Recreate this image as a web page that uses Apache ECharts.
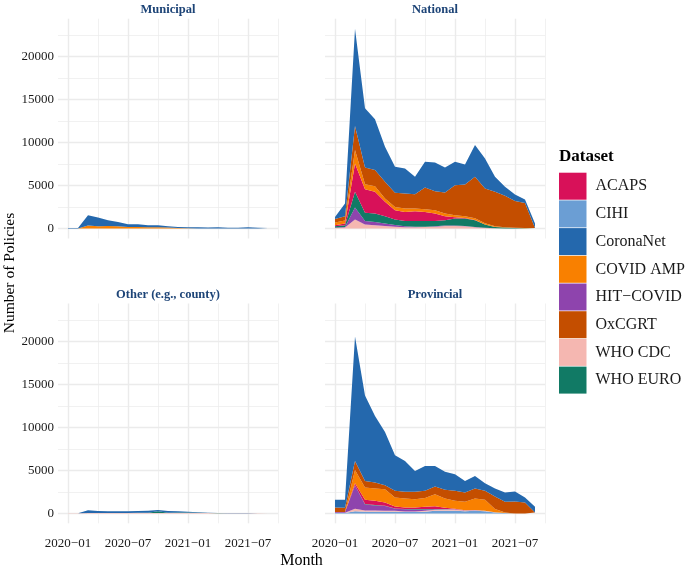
<!DOCTYPE html>
<html>
<head>
<meta charset="utf-8">
<script src="https://cdn.jsdelivr.net/npm/echarts@6/dist/echarts.min.js"></script>
<style>html,body{margin:0;padding:0;background:#fff}#c{width:685px;height:571px}</style>
</head>
<body>
<div id="c"></div>
<script>
// ---------- data ----------
// axis categories include one padding month on each side (ggplot 5% expansion)
const axisMonths = ['2019-12','2020-01','2020-02','2020-03','2020-04','2020-05','2020-06','2020-07','2020-08','2020-09','2020-10','2020-11','2020-12','2021-01','2021-02','2021-03','2021-04','2021-05','2021-06','2021-07','2021-08','2021-09','2021-10'];
const months = ['2020-01','2020-02','2020-03','2020-04','2020-05','2020-06','2020-07','2020-08','2020-09','2020-10','2020-11','2020-12','2021-01','2021-02','2021-03','2021-04','2021-05','2021-06','2021-07','2021-08','2021-09'];
const xTickMonths = ['2020-01', '2020-07', '2021-01', '2021-07'];
const xTickLabels = ['2020−01', '2020−07', '2021−01', '2021−07'];
const xMinorMonths = ['2020-04', '2020-10', '2021-04', '2021-10'];
const yTickValues = [0, 5000, 10000, 15000, 20000];
const yMinorValues = [2500, 7500, 12500, 17500, 22500];

const panelTitles = ['Municipal', 'National', 'Other (e.g., county)', 'Provincial'];
const legendOrder = ['ACAPS', 'CIHI', 'CoronaNet', 'COVID AMP', 'HIT−COVID', 'OxCGRT', 'WHO CDC', 'WHO EURO'];
const legendColors = ['#D81159', '#6B9ED4', '#2468AD', '#F98000', '#8E44AD', '#C44E00', '#F5B7B1', '#117A65'];
const stackOrder = ['CIHI', 'WHO CDC', 'HIT−COVID', 'WHO EURO', 'ACAPS', 'COVID AMP', 'OxCGRT', 'CoronaNet'];

// Municipal
const municipal_COVIDAMP  = [0,0,350,270,310,270,195,195,160,155,117,80,40,20,10,0,0,0,0,0,0];
const municipal_CoronaNet = [80,80,1200,1010,660,510,310,310,230,235,150,120,120,150,117,155,110,110,150,110,80];

// National
const national_WHOCDC    = [80,117,1050,470,390,310,230,155,155,190,230,310,310,270,155,80,40,20,10,10,0];
const national_HITCOVID  = [40,70,1400,420,390,270,200,115,75,40,40,40,40,40,30,20,10,0,0,0,0];
const national_WHOEURO   = [150,200,1820,940,970,860,620,620,660,660,620,620,820,860,785,370,140,100,60,40,0];
const national_ACAPS     = [130,210,3310,2750,2520,1670,1090,1050,1130,1050,860,470,150,60,20,0,0,0,0,0,0];
const national_COVIDAMP  = [300,350,1550,590,660,390,385,390,310,310,390,310,230,200,200,150,80,40,20,10,0];
const national_OxCGRT    = [430,490,2800,1940,1870,1940,1635,1750,1670,2530,2210,2450,3500,3700,4830,4040,4000,3650,3130,2930,80];
const national_CoronaNet = [230,1470,11300,6880,5900,4080,3030,2910,2020,2990,3340,2910,2720,2330,3690,3500,1750,1050,740,390,500];

// Other (e.g., county)
const other_WHOCDC    = [30,30,40,40,40,40,40,40,40,40,40,40,40,40,40,30,30,30,30,30,30];
const other_WHOEURO   = [0,0,20,20,20,20,20,30,50,200,50,60,60,40,20,10,0,0,0,0,0];
const other_CoronaNet = [0,0,300,230,200,200,200,220,230,150,200,150,100,60,30,20,20,10,10,0,0];

// Provincial
const provincial_CIHI      = [50,50,250,200,200,200,200,150,150,200,300,300,300,250,300,250,100,50,0,0,0];
const provincial_WHOCDC    = [20,20,300,150,150,120,100,80,80,100,120,150,150,100,80,50,30,10,0,0,0];
const provincial_HITCOVID  = [100,100,2680,680,565,530,250,240,230,150,60,30,20,20,20,10,10,0,0,0,0];
const provincial_WHOEURO   = [0,0,50,50,50,40,30,30,40,50,40,30,20,10,10,0,0,0,0,0,0];
const provincial_ACAPS     = [0,0,230,500,505,380,230,195,195,270,310,155,50,0,0,0,0,0,0,0,0];
const provincial_COVIDAMP  = [0,0,1550,1430,1430,1550,1040,1045,965,1010,1410,1075,930,970,1330,1270,360,55,0,0,0];
const provincial_OxCGRT    = [530,480,1040,770,690,460,770,770,850,840,890,1000,1150,1080,1160,1040,1470,1235,1390,1270,115];
const provincial_CoronaNet = [880,930,14470,9920,7720,6180,4135,3590,2430,2900,2390,2090,1935,1350,1460,890,930,1080,1160,580,655];

// ---------- build ----------
const panelSeries = [
  {'COVID AMP': municipal_COVIDAMP, 'CoronaNet': municipal_CoronaNet},
  {'WHO CDC': national_WHOCDC, 'HIT−COVID': national_HITCOVID, 'WHO EURO': national_WHOEURO, 'ACAPS': national_ACAPS,
   'COVID AMP': national_COVIDAMP, 'OxCGRT': national_OxCGRT, 'CoronaNet': national_CoronaNet},
  {'WHO CDC': other_WHOCDC, 'WHO EURO': other_WHOEURO, 'CoronaNet': other_CoronaNet},
  {'CIHI': provincial_CIHI, 'WHO CDC': provincial_WHOCDC, 'HIT−COVID': provincial_HITCOVID, 'WHO EURO': provincial_WHOEURO,
   'ACAPS': provincial_ACAPS, 'COVID AMP': provincial_COVIDAMP, 'OxCGRT': provincial_OxCGRT, 'CoronaNet': provincial_CoronaNet}
];

const FONT = '"Liberation Serif", "Times New Roman", "DejaVu Serif", serif';
const Y_MIN = -1150, Y_MAX = 24400;
const gridPos = [[58, 18.7], [325, 18.7], [58, 303.5], [325, 303.5]];
const GW = 220, GH = 219.8;
const GRID_COLOR = '#EBEBEB';
const TEXT_COLOR = '#1a1a1a';

const grids = [], xAxes = [], yAxes = [], series = [];
gridPos.forEach((p, i) => {
  grids.push({left: p[0], top: p[1], width: GW, height: GH, containLabel: false, outerBoundsMode: 'none'});
  xAxes.push({
    type: 'category', gridIndex: i, data: axisMonths, boundaryGap: false,
    axisLine: {show: false}, axisTick: {show: false}, splitLine: {show: false},
    axisLabel: {
      show: i >= 2, margin: 14, fontSize: 13, fontFamily: FONT, color: TEXT_COLOR,
      interval: (idx, val) => xTickMonths.includes(val),
      formatter: val => { const k = xTickMonths.indexOf(val); return k >= 0 ? xTickLabels[k] : ''; }
    }
  });
  yAxes.push({
    type: 'value', gridIndex: i, min: Y_MIN, max: Y_MAX, interval: 50,
    axisLine: {show: false}, axisTick: {show: false}, splitLine: {show: false},
    axisLabel: {
      show: i % 2 === 0, margin: 4, fontSize: 13, fontFamily: FONT, color: TEXT_COLOR,
      formatter: v => { const r = Math.round(v); return (yTickValues.includes(r) && Math.abs(v - r) < 1e-6) ? String(r) : ''; }
    }
  });
  // gridlines
  const ml = [];
  yTickValues.forEach(v => ml.push({yAxis: v, lineStyle: {color: GRID_COLOR, width: 1.4, type: 'solid'}}));
  yMinorValues.forEach(v => ml.push({yAxis: v, lineStyle: {color: GRID_COLOR, width: 0.7, type: 'solid'}}));
  xTickMonths.forEach(v => ml.push({xAxis: v, lineStyle: {color: GRID_COLOR, width: 1.4, type: 'solid'}}));
  xMinorMonths.forEach(v => ml.push({xAxis: v, lineStyle: {color: GRID_COLOR, width: 0.7, type: 'solid'}}));
  series.push({
    type: 'line', name: '', xAxisIndex: i, yAxisIndex: i, data: [], silent: true, z: 1, clip: false,
    markLine: {silent: true, symbol: ['none', 'none'], z: 1, animation: false, label: {show: false},
      emphasis: {disabled: true}, data: ml}
  });
  stackOrder.forEach(name => {
    const vals = panelSeries[i][name];
    if (!vals) return;
    const col = legendColors[legendOrder.indexOf(name)];
    series.push({
      type: 'line', name: name, xAxisIndex: i, yAxisIndex: i, stack: 'p' + i, z: 2,
      data: vals.map((v, k) => [months[k], v]),
      showSymbol: false, symbol: 'none', color: col,
      lineStyle: {width: 0, color: col}, itemStyle: {color: col},
      areaStyle: {color: col, opacity: 1},
      emphasis: {disabled: true}, animation: false
    });
  });
});

const centers = [168, 435, 168, 435];
const titleY = [9.5, 9.5, 295, 295];
const graphics = panelTitles.map((t, i) => ({
  type: 'text', x: centers[i], y: titleY[i],
  style: {text: t, fill: '#1D4477', font: 'bold 12.5px ' + FONT, textAlign: 'center', textVerticalAlign: 'middle'}
}));
graphics.push({type: 'text', x: 9.5, y: 273, rotation: Math.PI / 2,
  style: {text: 'Number of Policies', fill: '#000', font: '15.5px ' + FONT, textAlign: 'center', textVerticalAlign: 'middle'}});
graphics.push({type: 'text', x: 301.5, y: 561,
  style: {text: 'Month', fill: '#000', font: '16px ' + FONT, textAlign: 'center', textVerticalAlign: 'middle'}});
graphics.push({type: 'text', x: 559, y: 157,
  style: {text: 'Dataset', fill: '#000', font: 'bold 17px ' + FONT, textAlign: 'left', textVerticalAlign: 'middle'}});

const chart = echarts.init(document.getElementById('c'), null, {renderer: 'canvas'});
chart.setOption({
  animation: false,
  backgroundColor: '#fff',
  grid: grids, xAxis: xAxes, yAxis: yAxes, series: series,
  legend: {
    data: legendOrder, orient: 'vertical', left: 559, top: 172.7, padding: 0,
    icon: 'rect', itemWidth: 27.5, itemHeight: 27, itemGap: 0.7,
    itemStyle: {borderWidth: 0},
    textStyle: {fontFamily: FONT, fontSize: 16, color: TEXT_COLOR, padding: [0, 0, 0, 4]},
    selectedMode: false
  },
  graphic: graphics
});
</script>
</body>
</html>
